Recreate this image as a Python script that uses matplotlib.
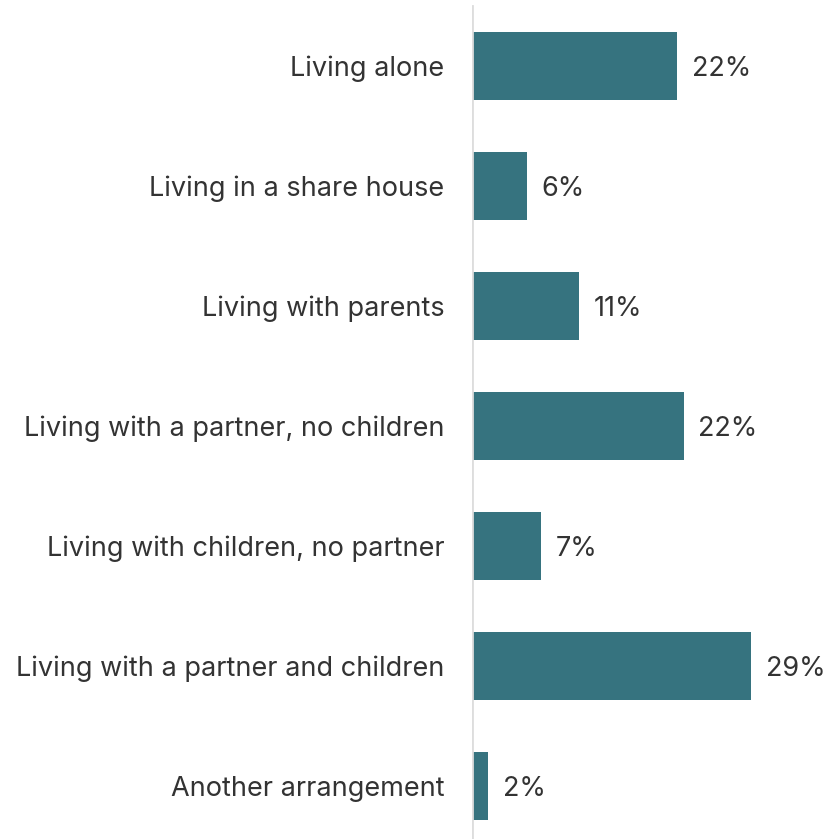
import matplotlib.pyplot as plt
import numpy as np

categories = ['Living alone', 'Living in a share house', 'Living with parents',
              'Living with a partner, no children', 'Living with children, no partner',
              'Living with a partner and children', 'Another arrangement']
values = [21.6, 5.8, 11.3, 22.3, 7.3, 29.4, 1.7]
labels = ['22%', '6%', '11%', '22%', '7%', '29%', '2%']

plt.rcParams['font.family'] = ['Inter', 'DejaVu Sans']

fig = plt.figure(figsize=(8.28, 8.39), dpi=100)
ax = fig.add_axes([472 / 828, 0, 356 / 828, 1])

y = np.arange(len(categories))
ax.barh(y, values, height=0.57, color='#36737f')

for yi, v, lab in zip(y, values, labels):
    ax.annotate(lab, (v, yi), xytext=(10.5, 0), textcoords='offset points',
                va='center_baseline', ha='left', fontsize=19.5, color='#333333')

ax.set_xlim(0, 37.5)
ax.set_ylim(6.44, -0.55)
ax.set_yticks(y)
ax.set_yticklabels(categories, fontsize=19.5, color='#333333', va='center_baseline')
ax.tick_params(axis='y', length=0, pad=20)
ax.set_xticks([])
for s in ax.spines.values():
    s.set_visible(False)
ax.axvline(0, ymin=0, ymax=1 - 6 / 839, color='#dddddd', lw=2)

fig.savefig('out.png', dpi=100)
